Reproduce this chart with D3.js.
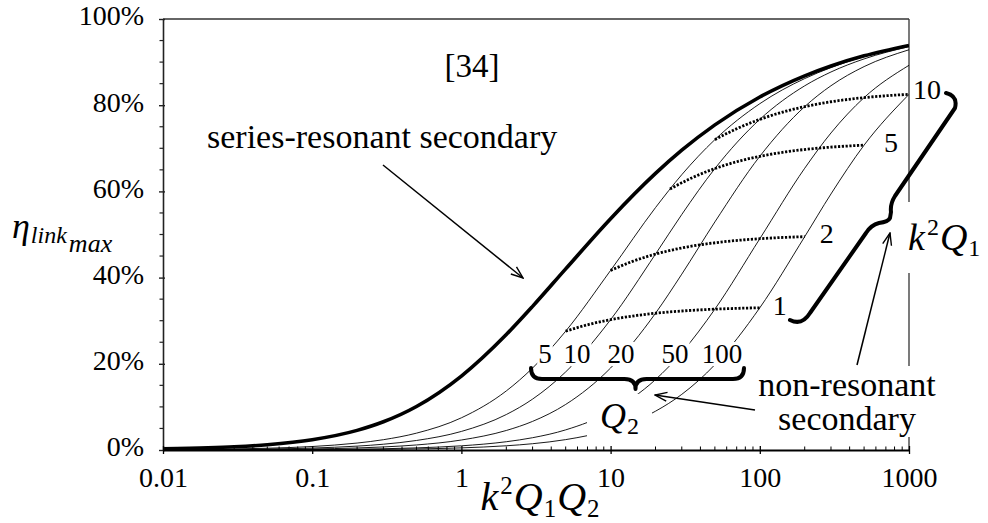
<!DOCTYPE html>
<html>
<head>
<meta charset="utf-8">
<script src="https://cdn.jsdelivr.net/npm/d3@7"></script>
</head>
<body style="margin:0">
<svg id="chart" width="988" height="523" font-family="Liberation Serif"></svg>
<script>
// x = k^2 Q1 Q2, efficiency values in %
const xSamples = [0.01, 0.02, 0.03, 0.05, 0.1, 0.2, 0.3, 0.5, 1, 2, 3, 5, 10, 20, 30, 50, 100, 200, 300, 500, 1000];
const seriesResonant = [0.25, 0.50, 0.74, 1.22, 2.38, 4.55, 6.55, 10.10, 17.16, 26.79, 33.33, 42.02, 53.67, 64.17, 69.55, 75.43, 81.90, 86.82, 89.10, 91.45, 93.87];

// non-resonant secondary, one curve per Q2
const q2Values = [5, 10, 20, 50, 100];
const nonResQ2_5 = [0.08, 0.16, 0.25, 0.41, 0.81, 1.61, 2.39, 3.91, 7.47, 13.71, 19.02, 27.57, 41.67, 56.24, 63.88, 72.01, 80.35, 86.18, 88.73, 91.26, 93.80];
const nonResQ2_10 = [0.05, 0.09, 0.14, 0.23, 0.45, 0.90, 1.34, 2.21, 4.31, 8.23, 11.81, 18.12, 30.24, 45.45, 54.65, 65.30, 76.71, 84.50, 87.71, 90.74, 93.60];
const nonResQ2_20 = [0.02, 0.05, 0.07, 0.12, 0.24, 0.47, 0.71, 1.17, 2.32, 4.53, 6.64, 10.57, 19.03, 31.73, 40.80, 52.92, 68.14, 79.67, 84.52, 88.96, 92.86];
const nonResQ2_50 = [0.01, 0.02, 0.03, 0.05, 0.10, 0.20, 0.29, 0.49, 0.97, 1.92, 2.85, 4.67, 8.91, 16.34, 22.62, 32.68, 49.02, 65.37, 73.56, 81.76, 89.26];
const nonResQ2_100 = [0.005, 0.01, 0.015, 0.025, 0.05, 0.10, 0.15, 0.25, 0.49, 0.98, 1.46, 2.41, 4.71, 9.00, 12.91, 19.80, 33.00, 49.50, 59.41, 70.73, 82.52];

// dotted lines of constant k^2 Q1, sampled over Q2
const k2q1Values = [1, 2, 5, 10];
const q2Steps = [5, 7, 10, 15, 20, 30, 50, 70, 100];
const k2q1_1 = [27.57, 29.05, 30.24, 31.22, 31.73, 32.25, 32.68, 32.86, 33.00];
const k2q1_2 = [41.67, 43.75, 45.45, 46.88, 47.62, 48.39, 49.02, 49.30, 49.50];
const k2q1_5 = [60.56, 63.13, 65.30, 67.15, 68.14, 69.18, 70.05, 70.43, 70.73];
const k2q1_10 = [72.01, 74.54, 76.71, 78.62, 79.67, 80.80, 81.76, 82.19, 82.52];

const xTicks = [0.01, 0.1, 1, 10, 100, 1000];
const xTickLabels = ["0.01", "0.1", "1", "10", "100", "1000"];
const yTicks = [0, 20, 40, 60, 80, 100];

const FONT = "\"Liberation Serif\"";
const plot = { left: 163, right: 909, top: 19, bottom: 450 };
const svg = d3.select("#chart");

const x = d3.scaleLog().domain([0.01, 1000]).range([plot.left, plot.right]);
const y = d3.scaleLinear().domain([0, 100]).range([plot.bottom, plot.top]);

const defs = svg.append("defs");
defs.append("clipPath").attr("id", "plotClip")
    .append("rect")
    .attr("x", plot.left).attr("y", plot.top - 5)
    .attr("width", plot.right - plot.left).attr("height", plot.bottom - plot.top + 5);

defs.append("marker")
    .attr("id", "arrow")
    .attr("viewBox", "-1 -6 14 12")
    .attr("refX", 12).attr("refY", 0)
    .attr("markerWidth", 14).attr("markerHeight", 12)
    .attr("markerUnits", "userSpaceOnUse")
    .attr("orient", "auto")
    .append("path")
    .attr("d", "M0,-4.5L12,0L0,4.5")
    .attr("fill", "none").attr("stroke", "#000").attr("stroke-width", 1.4);

// frame (top + right)
svg.append("line")
    .attr("x1", plot.left).attr("x2", plot.right)
    .attr("y1", plot.top).attr("y2", plot.top)
    .attr("stroke", "#333").attr("stroke-width", 1.3);
svg.append("line")
    .attr("x1", plot.right).attr("x2", plot.right)
    .attr("y1", plot.top).attr("y2", plot.bottom)
    .attr("stroke", "#333").attr("stroke-width", 1.3);

// curves
const line = d3.line()
    .x(d => x(d[0]))
    .y(d => y(d[1]))
    .curve(d3.curveMonotoneX);

const curves = svg.append("g").attr("clip-path", "url(#plotClip)");

[nonResQ2_5, nonResQ2_10, nonResQ2_20, nonResQ2_50, nonResQ2_100].forEach(vals => {
    curves.append("path")
        .datum(d3.zip(xSamples, vals))
        .attr("d", line)
        .attr("fill", "none")
        .attr("stroke", "#000")
        .attr("stroke-width", 0.9);
});

curves.append("path")
    .datum(d3.zip(xSamples, seriesResonant))
    .attr("d", line)
    .attr("fill", "none")
    .attr("stroke", "#000")
    .attr("stroke-width", 3.6);

[k2q1_1, k2q1_2, k2q1_5, k2q1_10].forEach((vals, i) => {
    curves.append("path")
        .datum(q2Steps.map((q, j) => [k2q1Values[i] * q, vals[j]]))
        .attr("d", line)
        .attr("fill", "none")
        .attr("stroke", "#000")
        .attr("stroke-width", 2.8)
        .attr("stroke-dasharray", "2.2,1.6");
});

// labels
const labelLayer = svg.append("g");

function addText(g, parts, px, py, anchor) {
    const t = g.append("text")
        .attr("x", px).attr("y", py)
        .attr("text-anchor", anchor || "start")
        .style("font-family", FONT)
        .attr("fill", "#000");
    parts.forEach(p => {
        const ts = t.append("tspan").text(p.t).style("font-size", p.size + "px");
        if (p.italic) ts.style("font-style", "italic");
        if (p.x !== undefined) ts.attr("x", p.x);
        if (p.dy) ts.attr("dy", p.dy);
        if (p.dx) ts.attr("dx", p.dx);
    });
    return t;
}

function addBg(g, padX, padY) {
    const b = g.node().getBBox();
    g.insert("rect", ":first-child")
        .attr("x", b.x - padX).attr("y", b.y - padY)
        .attr("width", b.width + 2 * padX).attr("height", b.height + 2 * padY)
        .attr("fill", "#fff");
}

// Q2 value labels above the brace
const q2LabelX = [545, 577, 621, 675, 722];
q2Values.forEach((q, i) => {
    const g = labelLayer.append("g");
    addText(g, [{ t: String(q), size: 27 }], q2LabelX[i], 363, "middle");
    addBg(g, 1, -3);
});

// Q2 symbol
{
    const g = labelLayer.append("g");
    addText(g, [{ t: "Q", size: 36, italic: true }, { t: "2", size: 24, dy: 6, dx: 1 }], 600, 428);
    addBg(g, 13, 2);
}

// k^2 Q1 labels at the end of each dotted line
const k2q1LabelDx = [13, 15, 20, 4];
const k2q1LabelDy = [7, 6, 7, 5];
k2q1Values.forEach((c, i) => {
    const xe = c * q2Steps[q2Steps.length - 1];
    const ve = [k2q1_1, k2q1_2, k2q1_5, k2q1_10][i][q2Steps.length - 1];
    addText(labelLayer, [{ t: String(c), size: 28 }], x(xe) + k2q1LabelDx[i], y(ve) + k2q1LabelDy[i]);
});

// k^2 Q1 symbol on the right
{
    const g = labelLayer.append("g");
    addText(g, [
        { t: "k", size: 38, italic: true },
        { t: "2", size: 24, dy: -15, dx: 2 },
        { t: "Q", size: 38, italic: true, dy: 15, dx: 1 },
        { t: "1", size: 24, dy: 6, dx: 1 }
    ], 908, 250);
    addBg(g, 0, 12);
}

// non-resonant secondary (two lines in one text)
{
    const g = labelLayer.append("g");
    addText(g, [
        { t: "non-resonant", size: 34 },
        { t: "secondary", size: 34, x: 847, dy: 34 }
    ], 847, 396, "middle");
    addBg(g, 4, 0);
}

addText(labelLayer, [{ t: "series-resonant secondary", size: 34 }], 207, 148);
addText(labelLayer, [{ t: "[34]", size: 33 }], 472, 77, "middle");

// braces
const braceLayer = svg.append("g")
    .attr("fill", "none").attr("stroke", "#000")
    .attr("stroke-width", 4).attr("stroke-linecap", "round").attr("stroke-linejoin", "round");

function hBrace(x0, x1, yTop, yBar, yTip) {
    const xm = (x0 + x1) / 2 - 2, r = 11;
    return `M${x0},${yTop} Q${x0},${yBar} ${x0 + r},${yBar} L${xm - r},${yBar} Q${xm},${yBar} ${xm},${yTip}` +
        ` Q${xm},${yBar} ${xm + r},${yBar} L${x1 - r},${yBar} Q${x1},${yBar} ${x1},${yTop}`;
}
braceLayer.append("path").attr("d", hBrace(531, 744, 368, 379, 389));
braceLayer.append("path")
    .attr("d", "M946,93 Q958,96 955,108 L895,196 Q890,204 891,212 L890,218 Q888,222 879,223 Q871,225 866,233 L810,313 Q802,326 790,320");

// arrows
const arrows = [[383, 165, 523, 278], [755, 410, 655, 395], [857, 365, 890, 233]];
svg.append("g").selectAll("line").data(arrows).enter().append("line")
    .attr("x1", d => d[0]).attr("y1", d => d[1])
    .attr("x2", d => d[2]).attr("y2", d => d[3])
    .attr("stroke", "#000").attr("stroke-width", 1.5)
    .attr("marker-end", "url(#arrow)");

// axis titles
addText(svg, [
    { t: "k", size: 40, italic: true },
    { t: "2", size: 25, dy: -16, dx: 2 },
    { t: "Q", size: 40, italic: true, dy: 16, dx: 1 },
    { t: "1", size: 25, dy: 7, dx: 1 },
    { t: "Q", size: 40, italic: true, dy: -7, dx: 1 },
    { t: "2", size: 25, dy: 7, dx: 1 }
], 540, 510, "middle");

addText(svg, [
    { t: "η", size: 36, italic: true },
    { t: "link", size: 24, italic: true, dy: 5, dx: 1 },
    { t: "max", size: 26, italic: true, dy: 9, dx: 2 }
], 12, 238);

// y axis
const yAxis = svg.append("g")
    .attr("transform", `translate(${plot.left},0)`)
    .call(d3.axisLeft(y).tickValues(yTicks).tickFormat(d => d + "%")
        .tickSizeInner(4).tickSizeOuter(0).tickPadding(15));
yAxis.attr("font-family", null).attr("font-size", null);
yAxis.select(".domain").attr("stroke", "#222").attr("stroke-width", 1.6);
yAxis.selectAll(".tick line").attr("x1", 2).attr("stroke", "#222").attr("stroke-width", 1.4);
yAxis.selectAll(".tick text").style("font-family", FONT).style("font-size", "28px").attr("dy", "0.21em");
yAxis.selectAll(".minor")
    .data(d3.range(5, 100, 5).filter(v => v % 20 !== 0))
    .enter().append("line")
    .attr("class", "minor")
    .attr("x1", 0).attr("x2", -3.5)
    .attr("y1", d => y(d)).attr("y2", d => y(d))
    .attr("stroke", "#222").attr("stroke-width", 1.2);

// x axis
const xAxis = svg.append("g")
    .attr("transform", `translate(0,${plot.bottom})`)
    .call(d3.axisBottom(x).tickValues(xTicks).tickFormat((d, i) => xTickLabels[i])
        .tickSizeInner(4).tickSizeOuter(0).tickPadding(13));
xAxis.attr("font-family", null).attr("font-size", null);
xAxis.select(".domain").attr("stroke", "#000").attr("stroke-width", 2);
xAxis.selectAll(".tick line").attr("y1", -4).attr("stroke", "#000").attr("stroke-width", 1.3);
xAxis.selectAll(".tick text").style("font-family", FONT).style("font-size", "28px");

const minorX = [];
xTicks.slice(0, -1).forEach(d => { for (let m = 2; m < 10; m++) minorX.push(d * m); });
xAxis.selectAll(".minor")
    .data(minorX)
    .enter().append("line")
    .attr("class", "minor")
    .attr("x1", d => x(d)).attr("x2", d => x(d))
    .attr("y1", 0).attr("y2", -3.5)
    .attr("stroke", "#000").attr("stroke-width", 1);
</script>
</body>
</html>
